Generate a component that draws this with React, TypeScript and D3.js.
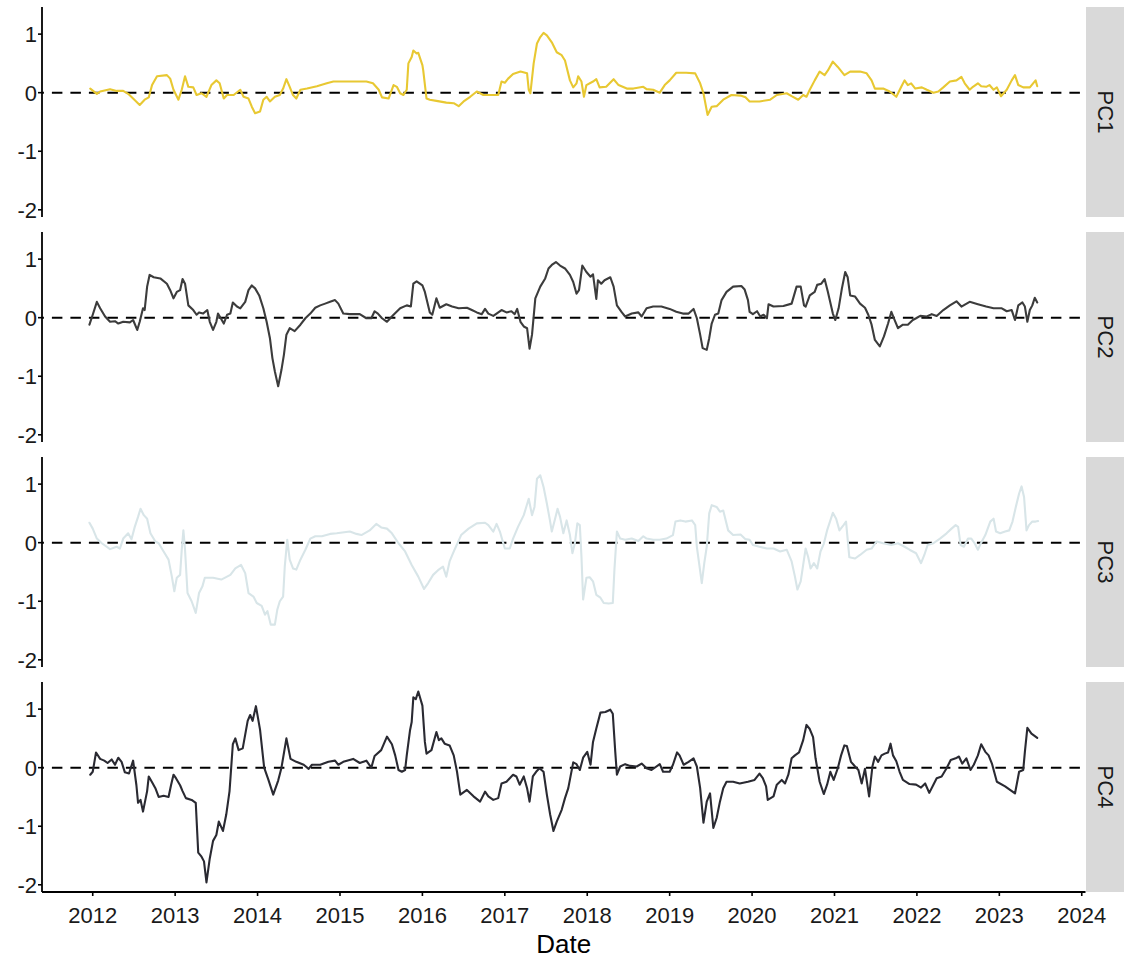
import React from "react";
import * as d3 from "d3";

type Pt = [number, number]; // [decimal year, score]

const panelNames = ["PC1", "PC2", "PC3", "PC4"];

const pc1: Pt[] = [
  [2011.97,0.07],[2012.05,-0.02],[2012.09,0.02],[2012.21,0.06],[2012.29,0.03],[2012.37,0.03],[2012.43,-0.02],[2012.49,-0.10],[2012.57,-0.21],[2012.63,-0.12],[2012.68,-0.08],[2012.72,0.13],[2012.78,0.28],[2012.90,0.30],[2012.94,0.24],[2012.98,0.05],[2013.04,-0.12],[2013.08,0.05],[2013.12,0.28],[2013.16,0.10],[2013.22,0.09],[2013.26,-0.04],[2013.32,-0.01],[2013.38,-0.07],[2013.44,0.13],[2013.50,0.21],[2013.54,0.16],[2013.59,-0.10],[2013.63,-0.04],[2013.71,-0.04],[2013.79,0.05],[2013.83,-0.07],[2013.89,-0.10],[2013.93,-0.24],[2013.97,-0.35],[2014.03,-0.32],[2014.07,-0.12],[2014.11,-0.07],[2014.15,-0.15],[2014.21,-0.07],[2014.27,-0.04],[2014.31,0.07],[2014.35,0.23],[2014.39,0.10],[2014.43,-0.04],[2014.47,-0.10],[2014.52,0.05],[2014.60,0.07],[2014.72,0.11],[2014.84,0.16],[2014.92,0.19],[2015.12,0.19],[2015.32,0.19],[2015.40,0.16],[2015.47,0.05],[2015.51,-0.08],[2015.59,-0.10],[2015.65,0.13],[2015.69,0.10],[2015.73,-0.01],[2015.77,-0.04],[2015.81,0.05],[2015.83,0.50],[2015.87,0.61],[2015.89,0.72],[2015.93,0.67],[2015.95,0.68],[2016.00,0.47],[2016.01,0.38],[2016.05,-0.10],[2016.09,-0.12],[2016.17,-0.14],[2016.29,-0.17],[2016.38,-0.18],[2016.44,-0.23],[2016.50,-0.15],[2016.58,-0.07],[2016.66,0.02],[2016.74,-0.04],[2016.86,-0.04],[2016.92,-0.04],[2016.96,0.19],[2017.00,0.17],[2017.04,0.24],[2017.10,0.32],[2017.19,0.36],[2017.27,0.33],[2017.29,0.05],[2017.31,-0.01],[2017.35,0.50],[2017.39,0.84],[2017.43,0.95],[2017.47,1.02],[2017.51,0.98],[2017.57,0.86],[2017.63,0.69],[2017.69,0.64],[2017.73,0.55],[2017.79,0.21],[2017.83,0.09],[2017.87,0.16],[2017.89,0.28],[2017.93,0.19],[2017.96,-0.07],[2017.99,0.13],[2018.07,0.19],[2018.11,0.23],[2018.15,0.09],[2018.23,0.10],[2018.32,0.23],[2018.38,0.13],[2018.48,0.07],[2018.56,0.07],[2018.68,0.10],[2018.72,0.06],[2018.80,0.05],[2018.88,0.00],[2018.94,0.13],[2019.00,0.21],[2019.08,0.34],[2019.20,0.34],[2019.31,0.33],[2019.37,0.16],[2019.41,-0.01],[2019.46,-0.38],[2019.51,-0.24],[2019.57,-0.23],[2019.65,-0.12],[2019.75,-0.04],[2019.86,-0.05],[2019.92,-0.08],[2019.97,-0.15],[2020.09,-0.15],[2020.22,-0.12],[2020.30,-0.04],[2020.42,-0.01],[2020.48,-0.06],[2020.56,-0.12],[2020.62,-0.04],[2020.66,-0.07],[2020.70,0.05],[2020.76,0.21],[2020.82,0.36],[2020.88,0.30],[2020.92,0.38],[2020.98,0.53],[2021.04,0.44],[2021.12,0.30],[2021.19,0.36],[2021.31,0.36],[2021.39,0.33],[2021.45,0.21],[2021.49,0.07],[2021.59,0.07],[2021.67,0.02],[2021.75,-0.07],[2021.81,0.10],[2021.85,0.21],[2021.89,0.13],[2021.93,0.16],[2021.98,0.07],[2022.06,0.09],[2022.12,0.05],[2022.20,0.00],[2022.26,0.02],[2022.32,0.09],[2022.40,0.19],[2022.48,0.21],[2022.54,0.27],[2022.58,0.16],[2022.64,0.05],[2022.68,0.10],[2022.74,0.16],[2022.78,0.11],[2022.84,0.10],[2022.88,0.13],[2022.93,0.05],[2022.97,0.09],[2023.02,-0.06],[2023.09,0.05],[2023.15,0.21],[2023.19,0.30],[2023.23,0.13],[2023.29,0.09],[2023.37,0.09],[2023.41,0.16],[2023.44,0.21],[2023.46,0.11],
];

const pc2: Pt[] = [
  [2011.96,-0.12],[2012.00,0.05],[2012.05,0.27],[2012.09,0.16],[2012.15,0.02],[2012.21,-0.07],[2012.27,-0.06],[2012.31,-0.10],[2012.37,-0.07],[2012.45,-0.08],[2012.49,-0.04],[2012.54,-0.21],[2012.57,-0.07],[2012.61,0.16],[2012.63,0.13],[2012.66,0.53],[2012.69,0.73],[2012.74,0.69],[2012.82,0.67],[2012.90,0.58],[2012.94,0.47],[2012.98,0.33],[2013.02,0.44],[2013.06,0.47],[2013.09,0.66],[2013.12,0.58],[2013.16,0.21],[2013.22,0.13],[2013.26,0.05],[2013.29,0.09],[2013.34,0.07],[2013.39,0.13],[2013.42,-0.07],[2013.46,-0.21],[2013.50,-0.07],[2013.52,0.07],[2013.55,0.00],[2013.59,-0.10],[2013.63,0.05],[2013.67,0.07],[2013.70,0.26],[2013.75,0.19],[2013.79,0.16],[2013.85,0.27],[2013.89,0.47],[2013.93,0.55],[2013.97,0.50],[2014.02,0.38],[2014.07,0.16],[2014.11,-0.07],[2014.15,-0.35],[2014.18,-0.69],[2014.21,-0.92],[2014.25,-1.17],[2014.29,-0.89],[2014.32,-0.63],[2014.35,-0.29],[2014.39,-0.18],[2014.45,-0.23],[2014.52,-0.12],[2014.58,-0.01],[2014.64,0.07],[2014.70,0.17],[2014.76,0.21],[2014.82,0.24],[2014.88,0.27],[2014.94,0.30],[2014.98,0.24],[2015.04,0.07],[2015.12,0.06],[2015.24,0.06],[2015.32,-0.01],[2015.38,-0.01],[2015.42,0.11],[2015.46,0.07],[2015.51,-0.01],[2015.57,-0.07],[2015.65,0.05],[2015.73,0.16],[2015.81,0.21],[2015.86,0.19],[2015.89,0.58],[2015.93,0.62],[2016.00,0.55],[2016.03,0.44],[2016.09,0.09],[2016.12,0.05],[2016.17,0.33],[2016.21,0.17],[2016.29,0.23],[2016.36,0.19],[2016.44,0.16],[2016.54,0.17],[2016.60,0.13],[2016.66,0.09],[2016.72,0.06],[2016.76,0.15],[2016.80,0.07],[2016.86,0.03],[2016.90,0.07],[2016.96,0.13],[2017.02,0.09],[2017.08,0.11],[2017.12,0.06],[2017.15,0.15],[2017.19,-0.07],[2017.23,-0.15],[2017.27,-0.18],[2017.30,-0.53],[2017.33,-0.29],[2017.37,0.33],[2017.43,0.53],[2017.49,0.67],[2017.53,0.84],[2017.57,0.90],[2017.62,0.95],[2017.67,0.89],[2017.73,0.84],[2017.79,0.73],[2017.83,0.61],[2017.87,0.41],[2017.90,0.47],[2017.94,0.89],[2017.99,0.78],[2018.04,0.70],[2018.07,0.74],[2018.11,0.32],[2018.13,0.64],[2018.17,0.58],[2018.21,0.64],[2018.28,0.69],[2018.32,0.53],[2018.36,0.21],[2018.42,0.09],[2018.46,0.02],[2018.54,0.07],[2018.62,0.09],[2018.66,0.02],[2018.72,0.16],[2018.80,0.19],[2018.90,0.19],[2019.00,0.15],[2019.08,0.10],[2019.16,0.07],[2019.23,0.07],[2019.29,0.15],[2019.33,-0.01],[2019.37,-0.29],[2019.40,-0.52],[2019.45,-0.55],[2019.48,-0.35],[2019.51,-0.10],[2019.55,0.05],[2019.59,0.07],[2019.63,0.30],[2019.69,0.44],[2019.77,0.53],[2019.87,0.54],[2019.91,0.48],[2019.95,0.30],[2019.97,0.10],[2020.01,0.06],[2020.06,0.11],[2020.10,0.02],[2020.14,0.05],[2020.18,-0.01],[2020.20,0.23],[2020.26,0.19],[2020.38,0.20],[2020.48,0.24],[2020.54,0.53],[2020.59,0.53],[2020.63,0.21],[2020.65,0.19],[2020.70,0.38],[2020.76,0.44],[2020.79,0.56],[2020.84,0.58],[2020.88,0.66],[2020.92,0.44],[2020.98,0.07],[2021.01,-0.04],[2021.05,0.16],[2021.09,0.50],[2021.13,0.78],[2021.16,0.69],[2021.19,0.38],[2021.25,0.36],[2021.31,0.24],[2021.37,0.17],[2021.41,0.05],[2021.45,-0.12],[2021.49,-0.38],[2021.55,-0.49],[2021.60,-0.32],[2021.65,-0.10],[2021.69,0.10],[2021.73,-0.04],[2021.77,-0.18],[2021.83,-0.12],[2021.89,-0.12],[2021.95,-0.04],[2021.99,-0.01],[2022.04,0.03],[2022.12,0.02],[2022.18,0.06],[2022.24,0.03],[2022.32,0.13],[2022.40,0.21],[2022.48,0.28],[2022.54,0.19],[2022.64,0.27],[2022.74,0.23],[2022.84,0.19],[2022.93,0.16],[2023.03,0.16],[2023.09,0.11],[2023.15,0.13],[2023.19,-0.04],[2023.23,0.21],[2023.28,0.26],[2023.31,0.19],[2023.34,-0.07],[2023.37,0.13],[2023.40,0.21],[2023.43,0.34],[2023.46,0.26],
];

const pc3: Pt[] = [
  [2011.96,0.34],[2012.00,0.24],[2012.05,0.07],[2012.11,-0.01],[2012.21,-0.11],[2012.29,-0.07],[2012.33,-0.10],[2012.37,0.07],[2012.43,0.16],[2012.47,0.06],[2012.51,0.27],[2012.55,0.44],[2012.58,0.58],[2012.62,0.47],[2012.66,0.41],[2012.70,0.16],[2012.76,0.02],[2012.80,-0.01],[2012.86,-0.15],[2012.92,-0.29],[2012.96,-0.58],[2012.99,-0.83],[2013.02,-0.60],[2013.06,-0.55],[2013.08,-0.12],[2013.10,0.21],[2013.12,-0.12],[2013.15,-0.86],[2013.20,-1.00],[2013.25,-1.20],[2013.29,-0.86],[2013.33,-0.75],[2013.36,-0.60],[2013.46,-0.60],[2013.56,-0.63],[2013.67,-0.55],[2013.73,-0.44],[2013.80,-0.38],[2013.85,-0.52],[2013.89,-0.86],[2013.95,-0.92],[2013.99,-1.03],[2014.05,-1.08],[2014.09,-1.23],[2014.12,-1.17],[2014.16,-1.40],[2014.21,-1.40],[2014.24,-1.14],[2014.27,-1.00],[2014.31,-0.92],[2014.33,-0.41],[2014.36,0.05],[2014.39,-0.29],[2014.43,-0.44],[2014.47,-0.46],[2014.52,-0.29],[2014.58,-0.12],[2014.64,0.07],[2014.70,0.11],[2014.78,0.11],[2014.88,0.15],[2014.96,0.16],[2015.12,0.19],[2015.20,0.15],[2015.26,0.13],[2015.36,0.21],[2015.44,0.32],[2015.50,0.26],[2015.57,0.24],[2015.63,0.16],[2015.71,-0.01],[2015.79,-0.15],[2015.87,-0.38],[2015.95,-0.58],[2016.02,-0.79],[2016.07,-0.69],[2016.13,-0.55],[2016.19,-0.47],[2016.25,-0.41],[2016.29,-0.58],[2016.33,-0.32],[2016.39,-0.12],[2016.47,0.13],[2016.56,0.24],[2016.66,0.33],[2016.76,0.34],[2016.80,0.30],[2016.86,0.19],[2016.90,0.32],[2016.94,0.19],[2017.00,-0.10],[2017.06,-0.10],[2017.10,0.07],[2017.16,0.27],[2017.23,0.47],[2017.29,0.75],[2017.33,0.47],[2017.36,0.61],[2017.39,1.09],[2017.43,1.15],[2017.47,0.95],[2017.51,0.67],[2017.55,0.36],[2017.57,0.19],[2017.61,0.41],[2017.64,0.58],[2017.67,0.44],[2017.71,0.16],[2017.75,0.38],[2017.79,0.13],[2017.82,-0.18],[2017.85,-0.01],[2017.88,0.33],[2017.91,0.30],[2017.93,-0.24],[2017.95,-0.97],[2017.99,-0.60],[2018.03,-0.59],[2018.07,-0.66],[2018.11,-0.89],[2018.16,-0.94],[2018.20,-1.03],[2018.26,-1.04],[2018.31,-1.03],[2018.33,-0.46],[2018.36,0.19],[2018.40,0.07],[2018.46,0.05],[2018.54,0.07],[2018.62,0.03],[2018.68,0.11],[2018.72,0.07],[2018.80,0.05],[2018.88,0.05],[2018.96,0.07],[2019.04,0.13],[2019.07,0.36],[2019.13,0.38],[2019.19,0.36],[2019.27,0.38],[2019.31,0.30],[2019.33,-0.07],[2019.36,-0.38],[2019.39,-0.69],[2019.42,-0.35],[2019.45,-0.07],[2019.48,0.50],[2019.51,0.64],[2019.57,0.61],[2019.61,0.53],[2019.65,0.55],[2019.71,0.21],[2019.77,0.13],[2019.86,0.14],[2019.92,0.06],[2019.97,0.05],[2020.01,-0.04],[2020.09,-0.07],[2020.18,-0.10],[2020.26,-0.10],[2020.34,-0.15],[2020.42,-0.12],[2020.48,-0.32],[2020.52,-0.58],[2020.55,-0.80],[2020.59,-0.66],[2020.62,-0.38],[2020.65,-0.10],[2020.68,-0.24],[2020.71,-0.44],[2020.75,-0.35],[2020.79,-0.44],[2020.83,-0.15],[2020.87,-0.02],[2020.91,0.21],[2020.98,0.51],[2021.02,0.41],[2021.06,0.21],[2021.11,0.30],[2021.14,0.36],[2021.18,-0.25],[2021.25,-0.27],[2021.31,-0.21],[2021.39,-0.12],[2021.45,-0.10],[2021.51,0.02],[2021.59,-0.01],[2021.69,-0.04],[2021.77,-0.01],[2021.85,-0.07],[2021.91,-0.12],[2021.99,-0.18],[2022.05,-0.35],[2022.09,-0.21],[2022.13,-0.04],[2022.20,-0.01],[2022.28,0.07],[2022.36,0.16],[2022.42,0.24],[2022.47,0.30],[2022.50,0.27],[2022.53,-0.04],[2022.57,-0.07],[2022.62,0.07],[2022.66,0.07],[2022.70,-0.01],[2022.74,-0.12],[2022.78,0.00],[2022.83,0.13],[2022.89,0.36],[2022.93,0.41],[2022.96,0.19],[2023.01,0.16],[2023.07,0.19],[2023.12,0.21],[2023.16,0.36],[2023.20,0.61],[2023.24,0.84],[2023.27,0.96],[2023.30,0.78],[2023.33,0.21],[2023.36,0.30],[2023.40,0.36],[2023.44,0.36],[2023.47,0.37],
];

const pc4: Pt[] = [
  [2011.97,-0.12],[2012.00,-0.07],[2012.04,0.26],[2012.09,0.15],[2012.14,0.12],[2012.18,0.08],[2012.23,0.14],[2012.27,0.05],[2012.31,0.17],[2012.35,0.10],[2012.39,-0.08],[2012.44,-0.10],[2012.49,0.12],[2012.53,-0.30],[2012.55,-0.60],[2012.58,-0.55],[2012.61,-0.75],[2012.66,-0.40],[2012.68,-0.15],[2012.72,-0.25],[2012.76,-0.35],[2012.80,-0.50],[2012.86,-0.48],[2012.92,-0.50],[2012.95,-0.30],[2012.98,-0.12],[2013.01,-0.18],[2013.06,-0.30],[2013.09,-0.40],[2013.13,-0.52],[2013.20,-0.55],[2013.25,-0.60],[2013.28,-1.45],[2013.32,-1.52],[2013.35,-1.60],[2013.38,-1.96],[2013.42,-1.55],[2013.46,-1.25],[2013.50,-1.15],[2013.53,-0.92],[2013.58,-1.08],[2013.62,-0.80],[2013.66,-0.40],[2013.70,0.40],[2013.73,0.50],[2013.77,0.30],[2013.82,0.33],[2013.88,0.80],[2013.91,0.90],[2013.94,0.80],[2013.98,1.05],[2014.03,0.65],[2014.08,0.00],[2014.13,-0.20],[2014.19,-0.46],[2014.25,-0.22],[2014.29,0.00],[2014.35,0.50],[2014.40,0.15],[2014.47,0.10],[2014.56,0.05],[2014.62,-0.02],[2014.66,0.05],[2014.76,0.05],[2014.86,0.10],[2014.94,0.12],[2014.98,0.05],[2015.04,0.10],[2015.16,0.15],[2015.24,0.08],[2015.32,0.12],[2015.38,0.00],[2015.42,0.20],[2015.50,0.30],[2015.57,0.53],[2015.63,0.40],[2015.67,0.21],[2015.71,-0.04],[2015.75,-0.07],[2015.79,-0.04],[2015.81,0.21],[2015.85,0.64],[2015.87,0.78],[2015.89,1.20],[2015.92,1.17],[2015.95,1.30],[2016.00,1.06],[2016.03,0.44],[2016.05,0.24],[2016.11,0.30],[2016.17,0.61],[2016.20,0.47],[2016.23,0.50],[2016.27,0.41],[2016.33,0.38],[2016.38,0.21],[2016.42,-0.07],[2016.46,-0.46],[2016.54,-0.38],[2016.62,-0.49],[2016.70,-0.58],[2016.76,-0.41],[2016.80,-0.49],[2016.86,-0.55],[2016.92,-0.52],[2016.96,-0.27],[2017.02,-0.24],[2017.06,-0.18],[2017.10,-0.12],[2017.14,-0.15],[2017.18,-0.29],[2017.23,-0.15],[2017.27,-0.35],[2017.30,-0.58],[2017.34,-0.15],[2017.38,-0.07],[2017.42,-0.01],[2017.47,-0.07],[2017.51,-0.46],[2017.55,-0.80],[2017.59,-1.08],[2017.63,-0.92],[2017.69,-0.72],[2017.73,-0.52],[2017.77,-0.35],[2017.83,0.09],[2017.87,0.06],[2017.91,-0.04],[2017.95,0.17],[2018.00,0.27],[2018.04,0.05],[2018.07,0.44],[2018.11,0.67],[2018.16,0.94],[2018.22,0.95],[2018.28,0.99],[2018.31,0.92],[2018.34,0.27],[2018.36,-0.12],[2018.40,0.02],[2018.46,0.06],[2018.52,0.03],[2018.60,0.02],[2018.66,0.07],[2018.72,-0.01],[2018.78,-0.04],[2018.88,0.06],[2018.92,-0.07],[2019.00,-0.07],[2019.04,0.05],[2019.09,0.26],[2019.12,0.21],[2019.17,0.05],[2019.23,0.10],[2019.29,0.16],[2019.33,0.02],[2019.37,-0.35],[2019.41,-0.94],[2019.45,-0.58],[2019.49,-0.44],[2019.53,-1.03],[2019.57,-0.86],[2019.61,-0.58],[2019.65,-0.35],[2019.69,-0.24],[2019.77,-0.24],[2019.85,-0.27],[2019.95,-0.24],[2020.03,-0.21],[2020.09,-0.10],[2020.13,-0.18],[2020.17,-0.32],[2020.19,-0.55],[2020.26,-0.49],[2020.30,-0.29],[2020.36,-0.21],[2020.40,-0.27],[2020.44,-0.12],[2020.48,0.16],[2020.52,0.21],[2020.57,0.26],[2020.62,0.47],[2020.66,0.73],[2020.70,0.66],[2020.74,0.52],[2020.77,0.16],[2020.82,-0.24],[2020.87,-0.45],[2020.91,-0.29],[2020.95,-0.07],[2020.99,-0.21],[2021.04,-0.01],[2021.08,0.21],[2021.12,0.38],[2021.15,0.37],[2021.20,0.10],[2021.25,0.02],[2021.29,-0.04],[2021.33,-0.27],[2021.37,-0.02],[2021.42,-0.49],[2021.46,0.02],[2021.49,0.19],[2021.53,0.10],[2021.57,0.21],[2021.61,0.24],[2021.65,0.26],[2021.68,0.41],[2021.71,0.21],[2021.75,0.11],[2021.79,-0.07],[2021.83,-0.21],[2021.91,-0.28],[2021.99,-0.29],[2022.05,-0.34],[2022.10,-0.27],[2022.15,-0.43],[2022.20,-0.29],[2022.24,-0.18],[2022.30,-0.15],[2022.36,-0.01],[2022.41,0.13],[2022.47,0.16],[2022.51,0.19],[2022.55,0.07],[2022.60,0.16],[2022.65,-0.04],[2022.69,0.05],[2022.74,0.21],[2022.78,0.40],[2022.83,0.27],[2022.87,0.21],[2022.91,0.07],[2022.97,-0.24],[2023.07,-0.32],[2023.19,-0.44],[2023.24,-0.07],[2023.29,-0.04],[2023.31,0.27],[2023.34,0.68],[2023.39,0.58],[2023.46,0.51],
];

const seriesColors = ["#E8C832", "#3C3C3C", "#D8E5E8", "#2A2A32"];
const yearTicks = [2012, 2013, 2014, 2015, 2016, 2017, 2018, 2019, 2020, 2021, 2022, 2023, 2024];
const scoreTicks = [-2, -1, 0, 1];
const xTitle = "Date";

const W = 1124;
const H = 961;
const LEFT = 42;
const RIGHT = 1085.5;
const TOP = 7;
const PANEL_H = 210;
const PANEL_STEP = 225;
const STRIP_X = 1086;
const STRIP_W = 38;
const FONT = "'Liberation Sans', Arial, Helvetica, sans-serif";

export default function App() {
  const series = [pc1, pc2, pc3, pc4];
  const all = series.flat();
  const [x0, x1] = d3.extent(all, (d) => d[0]) as [number, number];
  const [y0, y1] = d3.extent(all, (d) => d[1]) as [number, number];
  const xPad = (x1 - x0) * 0.05;
  const yPad = (y1 - y0) * 0.05;

  const x = d3.scaleLinear().domain([x0 - xPad, x1 + xPad]).range([LEFT, RIGHT]);

  const lastIdx = series.length - 1;
  const bottomY = TOP + lastIdx * PANEL_STEP + PANEL_H;

  return (
    <div style={{ position: "absolute", left: 0, top: 0 }}>
      <svg width={W} height={H} style={{ display: "block", background: "#fff" }} fontFamily={FONT}>
        {series.map((data, i) => {
          const top = TOP + i * PANEL_STEP;
          const y = d3.scaleLinear().domain([y0 - yPad, y1 + yPad]).range([top + PANEL_H, top]);
          const line = d3
            .line<Pt>()
            .x((d) => x(d[0]))
            .y((d) => y(d[1]));
          return (
            <g key={panelNames[i]}>
              {/* zero reference */}
              <line
                x1={LEFT}
                x2={RIGHT}
                y1={y(0)}
                y2={y(0)}
                stroke="#000"
                strokeWidth={2}
                strokeDasharray="10.5,8"
                strokeDashoffset={8.6}
              />
              <path
                d={line(data) || ""}
                fill="none"
                stroke={seriesColors[i]}
                strokeWidth={2.1}
                strokeLinejoin="round"
                strokeLinecap="round"
              />
              {/* y axis */}
              <line x1={LEFT} x2={LEFT} y1={top} y2={top + PANEL_H} stroke="#000" strokeWidth={1.8} />
              {scoreTicks.map((t) => (
                <g key={t}>
                  <line x1={LEFT - 4} x2={LEFT} y1={y(t)} y2={y(t)} stroke="#000" strokeWidth={1.6} />
                  <text
                    x={LEFT - 5}
                    y={y(t)}
                    dy="0.36em"
                    textAnchor="end"
                    fontSize={22}
                    fill="#1a1a1a"
                  >
                    {t}
                  </text>
                </g>
              ))}
              {/* facet strip */}
              <rect x={STRIP_X} y={top} width={STRIP_W} height={PANEL_H} fill="#D9D9D9" />
              <text
                transform={`translate(${STRIP_X + 19.5},${top + PANEL_H / 2}) rotate(90)`}
                textAnchor="middle"
                dy="0.36em"
                fontSize={22}
                fill="#1a1a1a"
              >
                {panelNames[i]}
              </text>
            </g>
          );
        })}

        {/* x axis on the bottom panel */}
        <line x1={LEFT} x2={RIGHT} y1={bottomY} y2={bottomY} stroke="#000" strokeWidth={1.8} />
        {yearTicks.map((t) => (
          <g key={t}>
            <line x1={x(t)} x2={x(t)} y1={bottomY} y2={bottomY + 4} stroke="#000" strokeWidth={1.6} />
            <text x={x(t)} y={bottomY + 30.5} textAnchor="middle" fontSize={22} fill="#1a1a1a">
              {t}
            </text>
          </g>
        ))}
        <text x={(LEFT + RIGHT) / 2} y={bottomY + 61} textAnchor="middle" fontSize={26} fill="#000">
          {xTitle}
        </text>
      </svg>
    </div>
  );
}
